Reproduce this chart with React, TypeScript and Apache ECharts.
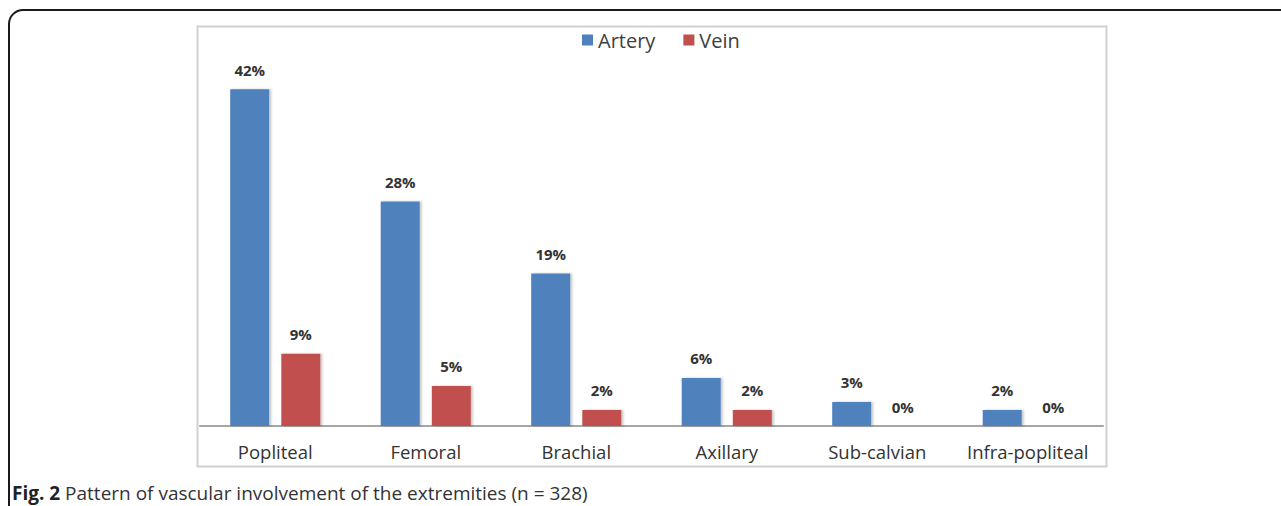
import React, { useEffect, useRef } from "react";
import * as echarts from "echarts";

const categories = ["Popliteal", "Femoral", "Brachial", "Axillary", "Sub-calvian", "Infra-popliteal"];
const arteryValues = [42, 28, 19, 6, 3, 2];
const veinValues = [9, 5, 2, 2, 0, 0];
const seriesNames = ["Artery", "Vein"];
const captionBold = "Fig. 2";
const captionText = " Pattern of vascular involvement of the extremities (n = 328)";

export default function App() {
  const ref = useRef<HTMLDivElement>(null);
  useEffect(() => {
    if (!ref.current) return;
    const chart = echarts.init(ref.current, null, { renderer: "svg" });
    const labelStyle = {
      show: true,
      position: "top",
      distance: 12,
      formatter: "{c}%",
      fontFamily: "Open Sans",
      fontWeight: "bold",
      fontSize: 15,
      color: "#333333",
    };
    const shadow = {
      shadowColor: "rgba(0,0,0,0.22)",
      shadowOffsetX: 2,
      shadowOffsetY: 0,
      shadowBlur: 2,
    };
    chart.setOption({
      animation: false,
      backgroundColor: "#ffffff",
      legend: {
        data: seriesNames,
        top: 25,
        left: 577,
        itemWidth: 11,
        itemHeight: 11,
        itemGap: 28,
        icon: "rect",
        textStyle: { fontFamily: "Open Sans", fontSize: 20, color: "#404040" },
        orient: "horizontal",
      },
      grid: { left: 200, right: 178, top: 25, bottom: 80, containLabel: false },
      xAxis: {
        type: "category",
        data: categories,
        axisLine: { show: true, lineStyle: { color: "#a6a6a6", width: 2 } },
        axisTick: { show: false },
        axisLabel: {
          fontFamily: "Open Sans",
          fontSize: 18.5,
          color: "#333333",
          margin: 16,
          interval: 0,
        },
      },
      yAxis: {
        type: "value",
        min: 0,
        max: 50,
        show: false,
        splitLine: { show: false },
      },
      series: [
        {
          name: seriesNames[0],
          type: "bar",
          data: arteryValues,
          barWidth: 39,
          barGap: "31%",
          itemStyle: { color: "#4f81bd", ...shadow },
          label: labelStyle,
        },
        {
          name: seriesNames[1],
          type: "bar",
          data: veinValues,
          barWidth: 39,
          itemStyle: { color: "#c0504d", ...shadow },
          label: labelStyle,
        },
      ],
      graphic: [
        {
          type: "rect",
          shape: { x: 9, y: 10, width: 1320, height: 640, r: 14 },
          style: { fill: "none", stroke: "#1a1a1a", lineWidth: 2 },
          silent: true,
          z: 100,
        },
        {
          type: "rect",
          shape: { x: 197.5, y: 26.5, width: 909, height: 440 },
          style: { fill: "none", stroke: "#d0d0d0", lineWidth: 2 },
          silent: true,
          z: 100,
        },
        {
          type: "text",
          x: 12,
          y: 493,
          style: {
            text: "{b|" + captionBold + "}{n|" + captionText + "}",
            verticalAlign: "middle",
            rich: {
              b: { fontFamily: "Open Sans", fontWeight: "bold", fontSize: 19, fill: "#222222" },
              n: { fontFamily: "Open Sans", fontSize: 19, fill: "#333333" },
            },
          },
          z: 100,
        },
      ],
    });
    return () => chart.dispose();
  }, []);
  return (
    <div
      ref={ref}
      style={{ position: "absolute", left: 0, top: 0, width: 1281, height: 506 }}
    />
  );
}
